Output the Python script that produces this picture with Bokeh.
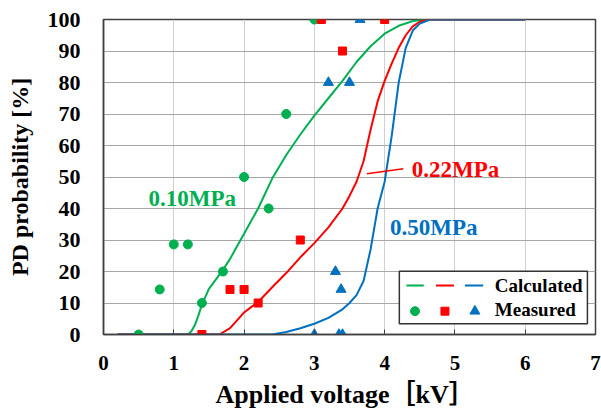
from bokeh.plotting import figure
from bokeh.models import Range1d, FixedTicker, Label, Title
from bokeh.core.properties import value
from bokeh.embed import file_html
from bokeh.resources import INLINE

FONT = "Liberation Serif"

# ---------------- data ----------------
x_ticks = [0, 1, 2, 3, 4, 5, 6, 7]
y_ticks = [0, 10, 20, 30, 40, 50, 60, 70, 80, 90, 100]

calc_010_x = [0.2, 1.2, 1.25, 1.3, 1.35, 1.4, 1.5, 1.6, 1.7, 1.8, 1.9, 2.0, 2.2, 2.4, 2.6, 2.8, 3.0,
              3.2, 3.4, 3.6, 3.8, 4.0, 4.2, 4.4, 4.6, 6.0]
calc_010_y = [0, 0, 1, 3, 6, 9.5, 14.5, 17.5, 20.5, 24, 28, 32, 40, 49.5, 57, 63.5, 69.5,
              75, 80.5, 86.5, 91.5, 95.5, 98, 99.5, 100, 100]

calc_022_x = [0.2, 1.65, 1.8, 1.9, 2.0, 2.1, 2.2, 2.4, 2.6, 2.8, 3.0, 3.2, 3.4, 3.5, 3.6, 3.7,
              3.8, 3.9, 4.0, 4.1, 4.2, 4.3, 4.4, 4.5, 4.6, 6.0]
calc_022_y = [0, 0, 2, 4.5, 7, 8.7, 10.3, 15, 19.5, 24.5, 29, 34, 40, 44, 48.5, 55,
              65, 74, 80.5, 86, 91, 95, 97.8, 99.3, 100, 100]

calc_050_x = [0.2, 2.4, 2.6, 2.8, 3.0, 3.2, 3.4, 3.5, 3.6, 3.7, 3.8, 3.9, 4.0, 4.1, 4.2, 4.3,
              4.4, 4.5, 4.65, 6.0]
calc_050_y = [0, 0, 0.8, 2, 3.4, 5.3, 8, 10, 12.5, 17, 27, 40, 48.5, 63, 80, 91,
              96.5, 98.7, 100, 100]

meas_010_x = [0.5, 0.8, 1.0, 1.2, 1.4, 1.7, 2.0, 2.35, 2.6, 3.0]
meas_010_y = [0, 14.3, 28.6, 28.6, 10, 20, 50, 40, 70, 100]

meas_022_x = [1.4, 1.8, 2.0, 2.2, 2.8, 3.1, 3.4, 4.0]
meas_022_y = [0, 14.3, 14.3, 10, 30, 100, 90, 100]

meas_050_x = [3.0, 3.35, 3.4, 3.3, 3.38, 3.2, 3.5, 3.65]
meas_050_y = [0, 0, 0, 20, 14.3, 80, 80, 100]

series_labels = ["0.10MPa", "0.22MPa", "0.50MPa"]
legend_labels = ["Calculated", "Measured"]
x_title = "Applied voltage［kV］"
y_title = "PD probability [%]"

GREEN, RED, BLUE = "#00B050", "#FF0000", "#0070C0"
DARK = "#404040"

# ---------------- figure ----------------
p = figure(width=601, height=413, output_backend="svg", toolbar_location=None,
           x_range=Range1d(0, 7), y_range=Range1d(0, 100),
           min_border_left=103, min_border_right=6, min_border_top=19, min_border_bottom=79)
p.background_fill_color = "white"
p.border_fill_color = "white"
p.outline_line_color = DARK
p.outline_line_width = 1.5
p.outline_line_alpha = 1.0

for ax, ticks in ((p.xaxis, x_ticks), (p.yaxis, y_ticks)):
    ax.ticker = FixedTicker(ticks=ticks)
    ax.major_label_text_font = FONT
    ax.major_label_text_font_style = "bold"
    ax.major_label_text_color = "black"
    ax.axis_line_color = DARK
    ax.axis_line_width = 1.5
    ax.major_tick_line_color = DARK
    ax.minor_tick_line_color = None
    ax.major_tick_out = 0

p.xaxis.major_tick_in = 5
p.xaxis.major_label_text_font_size = "21px"
p.xaxis.major_label_standoff = 21
p.yaxis.major_tick_in = 0
p.yaxis.major_label_text_font_size = "22px"
p.yaxis.major_label_standoff = 23
p.yaxis.axis_label = y_title
p.yaxis.axis_label_text_font = FONT
p.yaxis.axis_label_text_font_style = "bold"
p.yaxis.axis_label_text_font_size = "24px"
p.yaxis.axis_label_text_color = "black"
p.yaxis.axis_label_standoff = 12

p.xgrid.grid_line_color = "#d0d0d0"
p.ygrid.grid_line_color = "#a6a6a6"
p.xgrid.grid_line_width = 1
p.ygrid.grid_line_width = 1

# x-axis title, a little left of the frame centre as in the original
p.add_layout(Title(text=x_title, align="left", offset=112, standoff=10,
                   text_font="Liberation Serif, Noto Sans CJK TC", text_font_style="bold",
                   text_font_size="26px", text_color="black"), "below")

# calculated curves
p.line(calc_010_x, calc_010_y, line_color=GREEN, line_width=2)
p.line(calc_022_x, calc_022_y, line_color=RED, line_width=2)
p.line(calc_050_x, calc_050_y, line_color=BLUE, line_width=2)

# measured points
p.scatter(meas_010_x, meas_010_y, marker="circle", size=9, fill_color=GREEN, line_color=GREEN)
p.scatter(meas_022_x, meas_022_y, marker="square", size=8, fill_color=RED, line_color=RED)
p.scatter(meas_050_x, meas_050_y, marker="triangle", size=10, fill_color=BLUE, line_color=BLUE)

# series annotations
p.segment(x0=[3.746], y0=[51.0], x1=[4.266], y1=[52.6], line_color=RED, line_width=1.5)
for txt, xx, yy, col in ((series_labels[0], 0.64, 43.3, GREEN),
                         (series_labels[1], 4.385, 52.5, RED),
                         (series_labels[2], 4.077, 34.1, BLUE)):
    p.add_layout(Label(x=xx, y=yy, text=txt, text_font=FONT, text_font_style="bold",
                       text_font_size="23px", text_color=col, text_baseline="middle",
                       text_align="left"))

# legend (drawn by hand to mimic the two-row, three-column layout)
p.quad(left=[4.209], right=[6.885], bottom=[3.4], top=[20.1], fill_color="white",
       line_color="#333333", line_width=1.5)
line_y, mark_y = 15.56, 7.4
seg_x0 = [4.31, 4.73, 5.142]
seg_x1 = [4.557, 4.986, 5.402]
for x0, x1, col in zip(seg_x0, seg_x1, (GREEN, RED, BLUE)):
    p.segment(x0=[x0], y0=[line_y], x1=[x1], y1=[line_y], line_color=col, line_width=2)
p.scatter([4.432], [mark_y], marker="circle", size=9, fill_color=GREEN, line_color=GREEN)
p.scatter([4.858], [mark_y], marker="square", size=8, fill_color=RED, line_color=RED)
p.scatter([5.284], [mark_y], marker="triangle", size=10, fill_color=BLUE, line_color=BLUE)
for txt, yy in zip(legend_labels, (15.56, 7.78)):
    p.add_layout(Label(x=5.568, y=yy, text=txt, text_font=FONT, text_font_style="bold",
                       text_font_size="19px", text_color="black", text_baseline="middle",
                       text_align="left"))

open("out.html", "w").write(file_html(p, INLINE))
